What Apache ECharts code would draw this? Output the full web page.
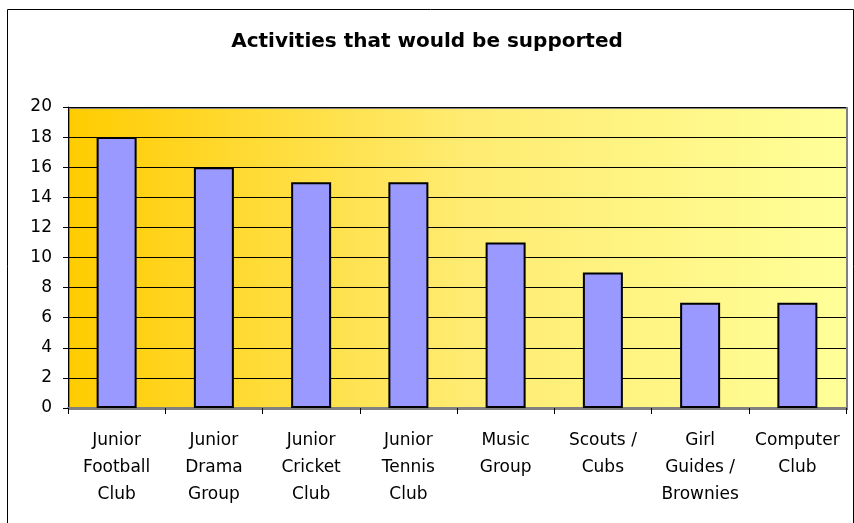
<!DOCTYPE html>
<html><head><meta charset="utf-8">
<script src="https://cdn.jsdelivr.net/npm/echarts@6/dist/echarts.min.js"></script>
<style>html,body{margin:0;padding:0;background:#fff}#c{width:854px;height:523px}</style>
</head><body><div id="c"></div>
<script>
const categories = ["Junior\nFootball\nClub","Junior\nDrama\nGroup","Junior\nCricket\nClub","Junior\nTennis\nClub","Music\nGroup","Scouts /\nCubs","Girl\nGuides /\nBrownies","Computer\nClub"];
const values = [18,16,15,15,11,9,7,7];
const titleText = "Activities that would be supported";
const font = "'DejaVu Sans', Verdana, sans-serif";
const chart = echarts.init(document.getElementById('c'), null, {renderer:'canvas'});
const gl = 68, gr = 8, gt = 107, gb = 115;
chart.setOption({
  animation:false,
  backgroundColor:'#fff',
  title:{text:titleText,left:'center',top:27,textStyle:{fontFamily:font,fontWeight:'bold',fontSize:20,color:'#000'}},
  graphic:[
    {type:'rect',left:5,top:7,shape:{width:846,height:520},style:{fill:null,stroke:'#000',lineWidth:1},z:-10},
    {type:'rect',left:gl,top:gt,shape:{width:854-gl-gr,height:523-gt-gb},
     style:{fill:new echarts.graphic.LinearGradient(0,0,1,0,[{offset:0,color:'#FFCC00'},{offset:0.5,color:'#FFEB70'},{offset:1,color:'#FFFF99'}]),stroke:'#808080',lineWidth:2},z:-5}
  ],
  grid:{left:gl,right:gr,top:gt,bottom:gb,show:false},
  xAxis:{type:'category',data:categories,
    axisLine:{show:true,lineStyle:{color:'#808080',width:2}},
    axisTick:{show:true,alignWithLabel:false,length:6,lineStyle:{color:'#000'}},
    axisLabel:{fontFamily:font,fontSize:17,color:'#000',lineHeight:27,margin:19,interval:0}},
  yAxis:{type:'value',min:0,max:20,interval:2,
    axisLine:{show:true,lineStyle:{color:'#000',width:1}},
    axisTick:{show:true,length:5,lineStyle:{color:'#000'}},
    splitLine:{show:true,lineStyle:{color:'#000',width:1}},
    axisLabel:{fontFamily:font,fontSize:17,color:'#000',margin:16}},
  series:[{type:'bar',data:values,barWidth:40,
    itemStyle:{color:'#9999FF',borderColor:'#000',borderWidth:2}}]
});
</script></body></html>
